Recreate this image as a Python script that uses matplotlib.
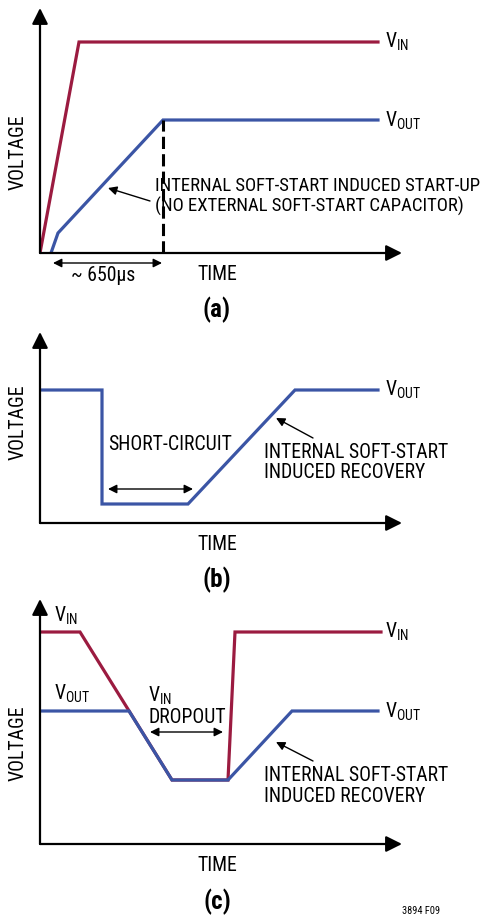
import matplotlib
matplotlib.use("Agg")
import matplotlib.pyplot as plt

plt.rcParams['font.family'] = ['Roboto Condensed', 'DejaVu Sans']
plt.rcParams['mathtext.fontset'] = 'custom'
plt.rcParams['mathtext.rm'] = 'Roboto Condensed'
plt.rcParams['mathtext.default'] = 'rm'

RED = '#9b1b40'
BLUE = '#3b55a5'

# panel (a): start-up, offsets from origin (time, voltage)
a_vin_t = [0, 39, 338]
a_vin_v = [0, 211, 211]
a_vout_t = [11, 18, 123, 338]
a_vout_v = [0, 20, 133, 133]
a_ss_end = 123

# panel (b): short-circuit recovery
b_vout_t = [0, 62, 62, 148, 255, 338]
b_vout_v = [133, 133, 19, 19, 133, 133]

# panel (c): input dropout
c_vin_t = [0, 40, 132, 188, 195, 341]
c_vin_v = [212, 212, 64, 64, 212, 212]
c_vout_t = [0, 89, 132, 188, 252, 338]
c_vout_v = [133, 133, 64, 64, 133, 133]

W, H = 493, 915
fig = plt.figure(figsize=(W / 100, H / 100), dpi=100)

fs = 14.2
lw = 2.3


def panel(y0, ytop):
    h = y0 - ytop
    ax = fig.add_axes([40 / W, 1 - y0 / H, 362 / W, h / H])
    ax.set_xlim(0, 362)
    ax.set_ylim(0, h)
    ax.axis('off')
    for end in [(0, h), (362, 0)]:
        ax.annotate('', xy=end, xytext=(0, 0), annotation_clip=False,
                    arrowprops=dict(arrowstyle='-|>', lw=1.6, color='black',
                                    mutation_scale=24, shrinkA=0, shrinkB=0))
    ax.text(-22, 101, 'VOLTAGE', rotation=90, ha='center', va='center', fontsize=fs)
    ax.text(177, -27, 'TIME', fontsize=fs, ha='center', va='baseline')
    return ax


def dbl(ax, x1, x2, y):
    ax.annotate('', xy=(x2, y), xytext=(x1, y), annotation_clip=False,
                arrowprops=dict(arrowstyle='<|-|>', lw=1, color='black',
                                mutation_scale=13, shrinkA=0, shrinkB=0))


def pointer(ax, xy, xytext):
    ax.annotate('', xy=xy, xytext=xytext, annotation_clip=False,
                arrowprops=dict(arrowstyle='-|>', lw=1, color='black',
                                mutation_scale=13, shrinkA=0, shrinkB=0))


def label(ax, x, y, s, size=fs, **kw):
    ax.text(x, y, s, fontsize=size, va='baseline', clip_on=False, **kw)


# (a)
ax = panel(253, 8)
ax.plot(a_vin_t, a_vin_v, color=RED, lw=lw, solid_joinstyle='miter')
ax.plot(a_vout_t, a_vout_v, color=BLUE, lw=lw, solid_joinstyle='miter')
ax.plot([a_ss_end, a_ss_end], [0, a_vout_v[-1]], color='black', lw=2.2,
        ls=(0, (4, 1.7)))
label(ax, 345, 205, 'V$_{IN}$')
label(ax, 345, 126, 'V$_{OUT}$')
label(ax, 115, 62, 'INTERNAL SOFT-START INDUCED START-UP', size=13.5)
label(ax, 115, 41, '(NO EXTERNAL SOFT-START CAPACITOR)', size=13.5)
pointer(ax, (68, 65), (110, 52))
dbl(ax, 13, 122, -10)
label(ax, 63, -28, '~ 650µs', ha='center')
ax.text(177, -57, '(a)', fontsize=18, fontweight='bold', ha='center', va='center')

# (b)
ax = panel(523, 332)
ax.plot(b_vout_t, b_vout_v, color=BLUE, lw=lw, solid_joinstyle='miter')
label(ax, 345, 127, 'V$_{OUT}$')
label(ax, 68, 73, 'SHORT-CIRCUIT')
dbl(ax, 68, 153, 34)
label(ax, 224, 65, 'INTERNAL SOFT-START')
label(ax, 224, 45, 'INDUCED RECOVERY')
pointer(ax, (236, 105), (273, 85))
ax.text(177, -57, '(b)', fontsize=18, fontweight='bold', ha='center', va='center')

# (c)
ax = panel(844, 599)
ax.plot(c_vin_t, c_vin_v, color=RED, lw=lw, solid_joinstyle='miter')
ax.plot(c_vout_t, c_vout_v, color=BLUE, lw=lw, solid_joinstyle='miter')
label(ax, 14, 222, 'V$_{IN}$')
label(ax, 14, 144, 'V$_{OUT}$')
label(ax, 345, 206, 'V$_{IN}$')
label(ax, 345, 126, 'V$_{OUT}$')
label(ax, 108, 142, 'V$_{IN}$')
label(ax, 108, 121, 'DROPOUT')
dbl(ax, 110, 183, 112)
label(ax, 224, 63, 'INTERNAL SOFT-START')
label(ax, 224, 42, 'INDUCED RECOVERY')
pointer(ax, (236, 102), (273, 83))
ax.text(177, -58, '(c)', fontsize=18, fontweight='bold', ha='center', va='center')
ax.text(362, -67, '3894 F09', fontsize=7.5, va='center')

fig.savefig('out.png', dpi=100)
